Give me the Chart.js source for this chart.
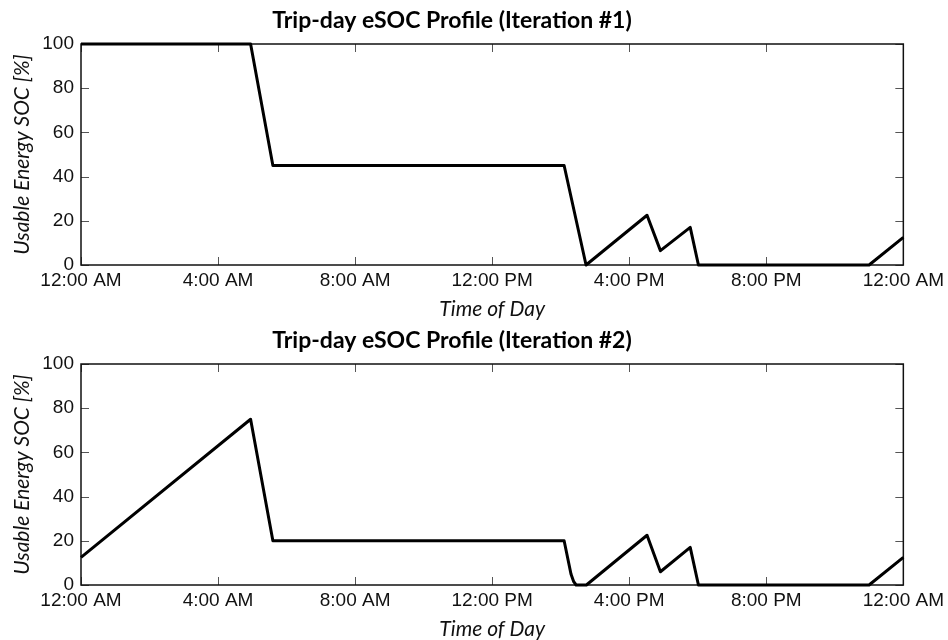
<!DOCTYPE html>
<html>
<head>
<meta charset="utf-8">
<title>Trip-day eSOC Profile</title>
<script src="https://cdn.jsdelivr.net/npm/chart.js@4.4.1/dist/chart.umd.min.js"></script>
<style>
  html, body { margin: 0; padding: 0; background: #fff; }
  #wrap { width: 948px; height: 640px; position: relative; }
  .panel { position: absolute; left: 0; width: 948px; height: 320px; }
  #panel1 { top: 0; }
  #panel2 { top: 320px; }
</style>
</head>
<body>
<div id="wrap">
  <div class="panel" id="panel1"><canvas id="chart1" width="948" height="320"></canvas></div>
  <div class="panel" id="panel2"><canvas id="chart2" width="948" height="320"></canvas></div>
</div>
<script>
// Tick labels for the 24 h axis (every 4 hours)
const timeLabels = ['12:00 AM', '4:00 AM', '8:00 AM', '12:00 PM', '4:00 PM', '8:00 PM', '12:00 AM'];

// Iteration #1: hour of day / usable energy SOC (%)
const hours1 = [0, 4.95, 5.6, 14.1, 14.74, 16.52, 16.91, 17.78, 18.02, 23.0, 24];
const soc1   = [100, 100, 45, 45, 0, 22.5, 6.5, 17, 0, 0, 12.5];

// Iteration #2
const hours2 = [0, 4.95, 5.6, 14.1, 14.3, 14.38, 14.45, 14.75, 16.52, 16.91, 17.78, 18.02, 23.0, 24];
const soc2   = [12.5, 75, 20, 20, 5, 1.5, 0, 0, 22.5, 6, 17, 0, 0, 12.5];

const tickFont = { family: "'Liberation Sans', Arial, sans-serif", size: 19 };
const labelFont = { family: "Lato, 'Open Sans', sans-serif", size: 21, style: 'italic' };

// plot frame plus inward tick marks on all four sides
const frameTicks = {
    id: 'frameTicks',
    beforeDatasetsDraw(chart) {
        const { ctx, chartArea: a, scales: { x, y } } = chart;
        const len = 8;
        ctx.save();
        ctx.strokeStyle = '#555';
        ctx.lineWidth = 1;
        ctx.beginPath();
        x.ticks.forEach(t => {
            const px = Math.round(x.getPixelForValue(t.value)) + 0.5;
            ctx.moveTo(px, a.bottom); ctx.lineTo(px, a.bottom - len);
            ctx.moveTo(px, a.top); ctx.lineTo(px, a.top + len);
        });
        y.ticks.forEach(t => {
            const py = Math.round(y.getPixelForValue(t.value)) + 0.5;
            ctx.moveTo(a.left, py); ctx.lineTo(a.left + len, py);
            ctx.moveTo(a.right, py); ctx.lineTo(a.right - len, py);
        });
        ctx.stroke();
        ctx.strokeStyle = '#111';
        ctx.lineWidth = 1.5;
        ctx.strokeRect(a.left, a.top, a.right - a.left, a.bottom - a.top);
        ctx.restore();
    }
};

function makeChart(id, title, hours, soc) {
    const ctx = document.getElementById(id).getContext('2d');
    return new Chart(ctx, {
        type: 'line',
        data: {
            datasets: [{
                data: hours.map((h, i) => ({ x: h, y: soc[i] })),
                borderColor: '#000',
                borderWidth: 3,
                borderJoinStyle: 'round',
                pointRadius: 0,
                tension: 0,
                clip: 4
            }]
        },
        options: {
            responsive: false,
            animation: false,
            devicePixelRatio: 1,
            layout: { padding: { left: 0, right: 44, top: 0, bottom: 0 } },
            plugins: {
                legend: { display: false },
                tooltip: { enabled: false },
                title: {
                    display: true,
                    text: title,
                    color: '#000',
                    font: { family: "Lato, 'Open Sans', sans-serif", size: 23, weight: 'bold', lineHeight: 1.2 },
                    padding: { top: 7, bottom: 9.4 }
                }
            },
            scales: {
                x: {
                    type: 'linear',
                    min: 0,
                    max: 24,
                    afterFit: s => { s.height = 55; },
                    grid: { display: false, drawTicks: false },
                    border: { display: false },
                    ticks: {
                        stepSize: 4,
                        autoSkip: false,
                        maxRotation: 0,
                        padding: 4,
                        color: '#111',
                        font: tickFont,
                        callback: (v, i) => timeLabels[i]
                    },
                    title: {
                        display: true,
                        text: 'Time of Day',
                        color: '#111',
                        font: { ...labelFont, lineHeight: 1 },
                        padding: { top: 0, bottom: 0 }
                    }
                },
                y: {
                    min: 0,
                    max: 100,
                    afterFit: s => { s.width = 81; },
                    grid: { display: false, drawTicks: false },
                    border: { display: false },
                    ticks: {
                        stepSize: 20,
                        padding: 7,
                        color: '#111',
                        font: tickFont
                    },
                    title: {
                        display: true,
                        text: 'Usable Energy SOC [%]',
                        color: '#111',
                        font: { ...labelFont, lineHeight: 1.2 },
                        padding: { top: 10, bottom: 0 }
                    }
                }
            }
        },
        plugins: [frameTicks]
    });
}

makeChart('chart1', 'Trip-day eSOC Profile (Iteration #1)', hours1, soc1);
makeChart('chart2', 'Trip-day eSOC Profile (Iteration #2)', hours2, soc2);
</script>
</body>
</html>
